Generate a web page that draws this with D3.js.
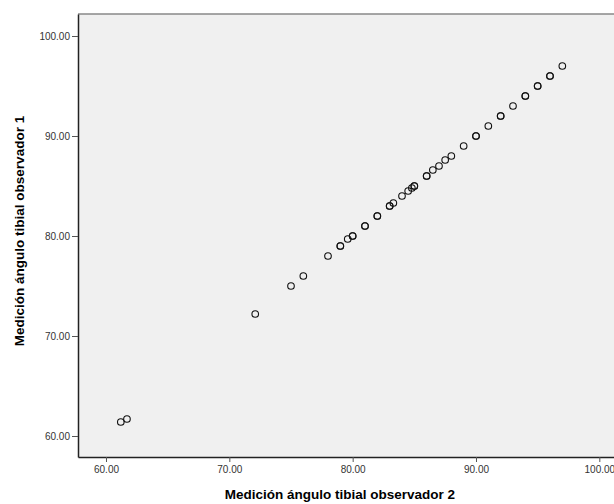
<!DOCTYPE html>
<html>
<head>
<meta charset="utf-8">
<script src="https://cdn.jsdelivr.net/npm/d3@7"></script>
<style>
  body { margin: 0; background: #fff; }
  .axis text { font-family: Arial, "Liberation Sans", sans-serif; font-size: 10px; fill: #333; }
  .axis line { stroke: #555; }
  .axis path { stroke: #222; stroke-width: 1.5; }
  .title { font-family: Arial, "Liberation Sans", sans-serif; font-size: 13.5px; font-weight: bold; fill: #000; }
</style>
</head>
<body>
<div id="chart"></div>
<script>
// observador 2 (x) and observador 1 (y)
var obs2 = [61.2, 61.7, 72.1, 75, 76, 78, 79, 79, 79.6, 80, 80, 81, 81, 82, 82, 83, 83, 83.3,
  84, 84.5, 84.8, 85, 85, 86, 86, 86.5, 87, 87.5, 88, 89, 90, 90, 91, 92, 92, 93, 94, 94,
  95, 95, 96, 96, 97];
var obs1 = [61.4, 61.7, 72.2, 75, 76, 78, 79, 79, 79.7, 80, 80, 81, 81, 82, 82, 83, 83, 83.3,
  84, 84.5, 84.8, 85, 85, 86, 86, 86.6, 87, 87.6, 88, 89, 90, 90, 91, 92, 92, 93, 94, 94,
  95, 95, 96, 96, 97];
var tickValues = [60, 70, 80, 90, 100];

var data = obs2.map(function (d, i) { return { x: d, y: obs1[i] }; });

var W = 614, H = 504;
var plotL = 78, plotR = 614, plotT = 14, plotB = 457;

var svg = d3.select("#chart").append("svg")
  .attr("width", W)
  .attr("height", H);

var x = d3.scaleLinear()
  .domain([57.73, 101.19])
  .range([plotL, plotR]);

var y = d3.scaleLinear()
  .domain([57.9, 102.2])
  .range([plotB, plotT]);

svg.append("rect")
  .attr("x", plotL)
  .attr("y", plotT)
  .attr("width", plotR - plotL)
  .attr("height", plotB - plotT)
  .attr("fill", "#f0f0f0");

// top frame line
svg.append("line")
  .attr("x1", plotL).attr("x2", plotR)
  .attr("y1", plotT).attr("y2", plotT)
  .attr("stroke", "#888")
  .attr("stroke-width", 1.5);

var xAxis = d3.axisBottom(x)
  .tickValues(tickValues)
  .tickFormat(d3.format(".2f"))
  .tickSize(5)
  .tickSizeOuter(0)
  .tickPadding(4);

var yAxis = d3.axisLeft(y)
  .tickValues(tickValues)
  .tickFormat(d3.format(".2f"))
  .tickSize(6)
  .tickSizeOuter(0)
  .tickPadding(2);

svg.append("g")
  .attr("class", "axis")
  .attr("transform", "translate(0," + plotB + ")")
  .call(xAxis);

svg.append("g")
  .attr("class", "axis")
  .attr("transform", "translate(" + plotL + ",0)")
  .call(yAxis);

svg.selectAll("circle.pt")
  .data(data)
  .enter().append("circle")
  .attr("class", "pt")
  .attr("cx", function (d) { return x(d.x); })
  .attr("cy", function (d) { return y(d.y); })
  .attr("r", 3.3)
  .attr("fill", "none")
  .attr("stroke", "#111")
  .attr("stroke-width", 1.1);

svg.append("text")
  .attr("class", "title")
  .attr("x", 340)
  .attr("y", 499)
  .attr("text-anchor", "middle")
  .text("Medición ángulo tibial observador 2");

svg.append("text")
  .attr("class", "title")
  .attr("transform", "translate(24," + 231 + ") rotate(-90)")
  .attr("text-anchor", "middle")
  .text("Medición ángulo tibial observador 1");
</script>
</body>
</html>
